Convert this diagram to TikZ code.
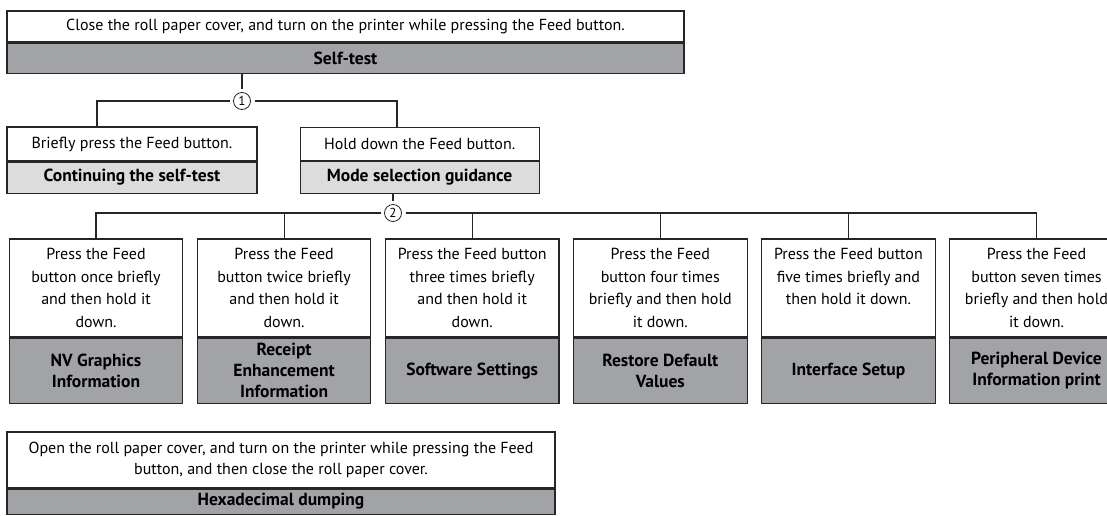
\documentclass[tikz,border=0pt]{standalone}
\usepackage{fontspec}
\setmainfont{PT Sans}
\usepackage{xcolor}
\usepackage{tikz}
\usetikzlibrary{positioning}
\definecolor{cinzaesc}{HTML}{A2A3A6}
\definecolor{cinzacla}{HTML}{DCDCDC}
\tikzset{
  press/.style={draw=black!85, line width=1.1pt, fill=white, align=center, inner sep=0pt, minimum width=#1, font=\fontsize{16}{22.5}\selectfont},
  press/.default=173.5pt,
  mode/.style={press=#1, fill=cinzaesc, font=\bfseries\fontsize{17.5}{21}\selectfont},
  mode/.default=173.5pt,
  modeclaro/.style={mode=#1, fill=cinzacla},
  num/.style={circle, draw=black!85, line width=0.8pt, minimum size=17pt, inner sep=0pt, outer sep=4pt, font=\fontsize{13}{13}\selectfont},
  wire/.style={draw=black!85, line width=1.1pt},
}
\begin{document}
\begin{tikzpicture}[x=1pt, y=-1pt, node distance=0pt]
  \useasboundingbox (0,0) rectangle (1107,515);
  % self-test
  \node[press=677pt, minimum height=31pt] (nst) at (345.5,26.5) {Close the roll paper cover, and turn on the printer while pressing the Feed button.};
  \node[mode=677pt, minimum height=30pt, below=of nst] (st) {Self-test};
  \node[num] (c1) at (242,101) {1};
  \coordinate (e1) at (97,101);
  \coordinate (d1) at (397,101);
  % first choice
  \node[press=250pt, minimum height=34pt] (na) at (132,144) {Briefly press the Feed button.};
  \node[modeclaro=250pt, minimum height=31pt, below=of na] (ca) {Continuing the self-test};
  \node[press=239pt, minimum height=33pt, right=42pt of na] (nb) {Hold down the Feed button.};
  \node[modeclaro=239pt, minimum height=32pt, below=of nb] (mb) {Mode selection guidance};
  \node[num] (c2) at (393,213) {2};
  % modes
  \node[press, minimum height=98pt] (n1) at (96,288) {Press the Feed\\button once briefly\\and then hold it\\down.};
  \node[press, minimum height=98pt, right=13.5pt of n1] (n2) {Press the Feed\\button twice briefly\\and then hold it\\down.};
  \node[press, minimum height=98pt, right=13.5pt of n2] (n3) {Press the Feed button\\three times briefly\\and then hold it\\down.};
  \node[press, minimum height=98pt, right=13.5pt of n3] (n4) {Press the Feed\\button four times\\briefly and then hold\\it down.};
  \node[press, minimum height=98pt, right=13.5pt of n4] (n5) {Press the Feed button\\five times briefly and\\then hold it down.\\~};
  \node[press, minimum height=98pt, right=13.5pt of n5] (n6) {Press the Feed\\button seven times\\briefly and then hold\\it down.};
  \node[mode, minimum height=65pt, below=of n1] (g1) {NV Graphics\\Information};
  \node[mode, minimum height=65pt, below=of n2] (g2) {Receipt\\Enhancement\\Information};
  \node[mode, minimum height=65pt, below=of n3] (g3) {Software Settings};
  \node[mode, minimum height=65pt, below=of n4] (g4) {Restore Default\\Values};
  \node[mode, minimum height=65pt, below=of n5] (g5) {Interface Setup};
  \node[mode, minimum height=65pt, below=of n6] (g6) {Peripheral Device\\Information print};
  % hex dump
  \node[press=548pt, minimum height=56pt, font=\fontsize{16}{21}\selectfont] (nh) at (281,460) {Open the roll paper cover, and turn on the printer while pressing the Feed\\button, and then close the roll paper cover.};
  \node[mode=548pt, minimum height=25pt, below=of nh] (hx) {Hexadecimal dumping};
  % connectors
  \draw[wire] (st.south -| c1) -- (c1);
  \draw[wire] (c1) -- (e1) -- (e1 |- na.north);
  \draw[wire] (c1) -- (d1) -- (d1 |- nb.north);
  \draw[wire] (mb.south -| c2) -- (c2);
  \draw[wire] (c2) -- (c2 -| n1.north) -- (n1.north);
  \draw[wire] (c2) -- (c2 -| n6.north) -- (n6.north);
  \foreach \b in {n2,n3,n4,n5}
    \draw[wire] (c2 -| \b.north) -- (\b.north);
\end{tikzpicture}
\end{document}
